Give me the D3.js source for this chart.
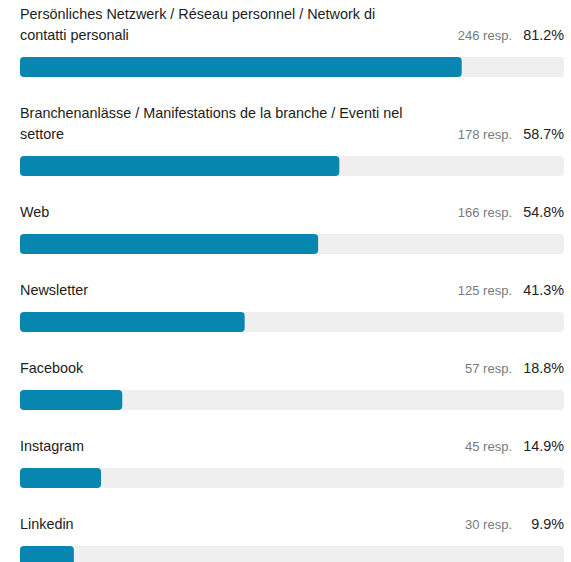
<!DOCTYPE html>
<html>
<head>
<meta charset="utf-8">
<script src="https://cdn.jsdelivr.net/npm/d3@7"></script>
<style>
  body { margin: 0; background: #fff; }
  text { font-family: "Liberation Sans", Arial, sans-serif; }
</style>
</head>
<body>
<div id="chart"></div>
<script>
// survey answers, line breaks as in the picture
const labels = [
  "Persönliches Netzwerk / Réseau personnel / Network di\ncontatti personali",
  "Branchenanlässe / Manifestations de la branche / Eventi nel\nsettore",
  "Web",
  "Newsletter",
  "Facebook",
  "Instagram",
  "Linkedin"
];
const responses = [246, 178, 166, 125, 57, 45, 30];
const percents = [81.2, 58.7, 54.8, 41.3, 18.8, 14.9, 9.9];

const width = 571, height = 562;
const left = 20, right = 564;
const lineH = 21, barH = 20;

const svg = d3.select("#chart").append("svg")
  .attr("width", width)
  .attr("height", height);

const x = d3.scaleLinear().domain([0, 100]).range([0, right - left]);

// work out where every row sits
let y = 14;
const rows = labels.map(function (l, i) {
  const lines = l.split("\n");
  const r = { lines: lines, top: y, resp: responses[i], pct: percents[i] };
  r.lastLine = y + (lines.length - 1) * lineH;
  r.barY = r.lastLine + 22;
  y = r.barY + barH + 36;
  return r;
});

const g = svg.selectAll("g.row").data(rows).join("g").attr("class", "row");

g.each(function (d) {
  const row = d3.select(this);
  row.selectAll("text.lbl").data(d.lines).join("text")
    .attr("class", "lbl")
    .attr("x", left)
    .attr("y", (t, j) => d.top + j * lineH)
    .attr("dominant-baseline", "central")
    .attr("font-size", 14.4)
    .attr("fill", "#1c1c1c")
    .text(t => t);
});

g.append("text")
  .attr("x", right)
  .attr("y", d => d.lastLine)
  .attr("dominant-baseline", "central")
  .attr("text-anchor", "end")
  .attr("font-size", 14.4)
  .attr("fill", "#222")
  .text(d => d.pct.toFixed(1) + "%");

g.append("text")
  .attr("x", 512)
  .attr("y", d => d.lastLine)
  .attr("dominant-baseline", "central")
  .attr("text-anchor", "end")
  .attr("font-size", 13)
  .attr("fill", "#7a7a7a")
  .text(d => d.resp + " resp.");

// grey track then the blue bar
g.append("rect")
  .attr("x", left)
  .attr("y", d => d.barY)
  .attr("width", x(100))
  .attr("height", barH)
  .attr("rx", 4)
  .attr("fill", "#efefef");

g.append("rect")
  .attr("x", left)
  .attr("y", d => d.barY)
  .attr("width", d => x(d.pct))
  .attr("height", barH)
  .attr("rx", 4)
  .attr("fill", "#0786b0");
</script>
</body>
</html>
